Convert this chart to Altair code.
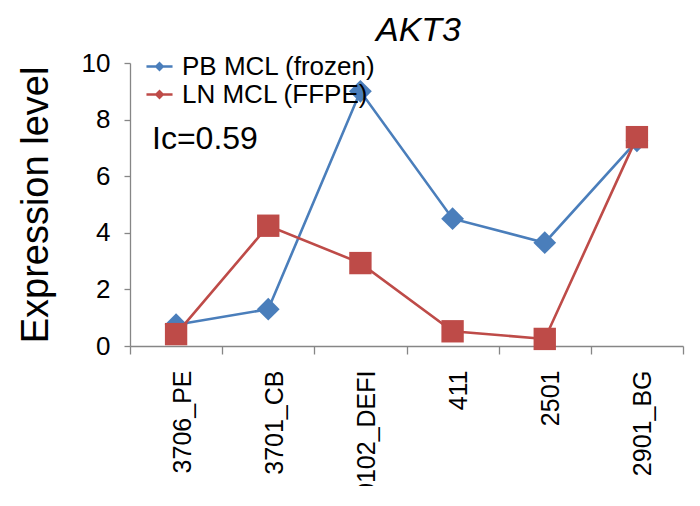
import altair as alt
import pandas as pd

categories = ["3706_PE", "3701_CB", "0102_DEFI", "411", "2501", "2901_BG"]
pb_values = [0.75, 1.3, 9.0, 4.5, 3.65, 7.25]
ln_values = [0.42, 4.25, 2.93, 0.52, 0.25, 7.38]
series_names = ["PB MCL (frozen)", "LN MCL (FFPE)"]
series_colors = ["#4a7ebb", "#be4b48"]
y_ticks = [0, 2, 4, 6, 8, 10]
annotation_text = ["Ic=0.59"]
annotation_y = [7.3]

rows = []
for s, vals in zip(series_names, [pb_values, ln_values]):
    for c, v in zip(categories, vals):
        rows.append({"sample": c, "series": s, "value": v})
df = pd.DataFrame(rows)

FONT = "Liberation Sans"

x_enc = alt.X(
    "sample:N",
    sort=categories,
    scale=alt.Scale(type="band", paddingInner=0, paddingOuter=0),
    axis=alt.Axis(
        title=None, labelAngle=-90, tickBand="extent", labelFontSize=25,
        labelFont=FONT, labelColor="black", labelPadding=16, tickSize=8,
        labelOffset=6,
        domainColor="#868686", tickColor="#868686", domainWidth=1.3, tickWidth=1.3,
    ),
)
y_enc = alt.Y(
    "value:Q",
    scale=alt.Scale(domain=[0, 10], nice=False),
    axis=alt.Axis(
        title="Expression level", values=y_ticks, grid=False, labelFontSize=26,
        labelFont=FONT, labelColor="black", labelPadding=14, tickSize=6,
        titleFont=FONT, titleFontSize=38, titleFontWeight="normal", titleColor="black",
        titlePadding=26, domainColor="#868686", tickColor="#868686",
        domainWidth=1.3, tickWidth=1.3,
    ),
)
color_enc = alt.Color(
    "series:N",
    sort=series_names,
    scale=alt.Scale(domain=series_names, range=series_colors),
    legend=alt.Legend(
        title=None, orient="none", legendX=16, legendY=-10,
        labelFont=FONT, labelFontSize=26, labelColor="black", rowPadding=1,
        labelLimit=500,
        symbolType="M-1,-0.1H1V0.1H-1Z M0,-0.38L0.38,0L0,0.38L-0.38,0Z",
        symbolSize=680, symbolStrokeWidth=0, labelOffset=9,
    ),
)

base = alt.Chart(df).encode(x=x_enc, y=y_enc, color=color_enc)

layers = []
shapes = ["diamond", "square"]
sizes = [520, 500]
for s, shp, sz in zip(series_names, shapes, sizes):
    sub = base.transform_filter(alt.datum.series == s)
    layers.append(sub.mark_line(strokeWidth=2.6))
    layers.append(sub.mark_point(shape=shp, size=sz, filled=True, opacity=1, strokeWidth=0))

ann_df = pd.DataFrame({"label": annotation_text, "value": annotation_y})
ann = alt.Chart(ann_df).mark_text(
    align="left", baseline="middle", font=FONT, fontSize=32, color="black"
).encode(x=alt.value(22), y=alt.Y("value:Q"), text="label:N")
layers.append(ann)

chart = alt.layer(*layers).properties(
    width=553,
    height=283,
    title=alt.TitleParams(
        "AKT3", font=FONT, fontSize=34, fontStyle="italic", fontWeight="normal",
        color="black", anchor="middle", dx=12, offset=2, frame="group",
    ),
    autosize=alt.AutoSizeParams(type="none"),
    padding={"left": 122, "top": 55, "right": 9, "bottom": 140},
).configure_view(stroke=None)

chart.save("out.html", embed_options={"renderer": "svg", "actions": False})
